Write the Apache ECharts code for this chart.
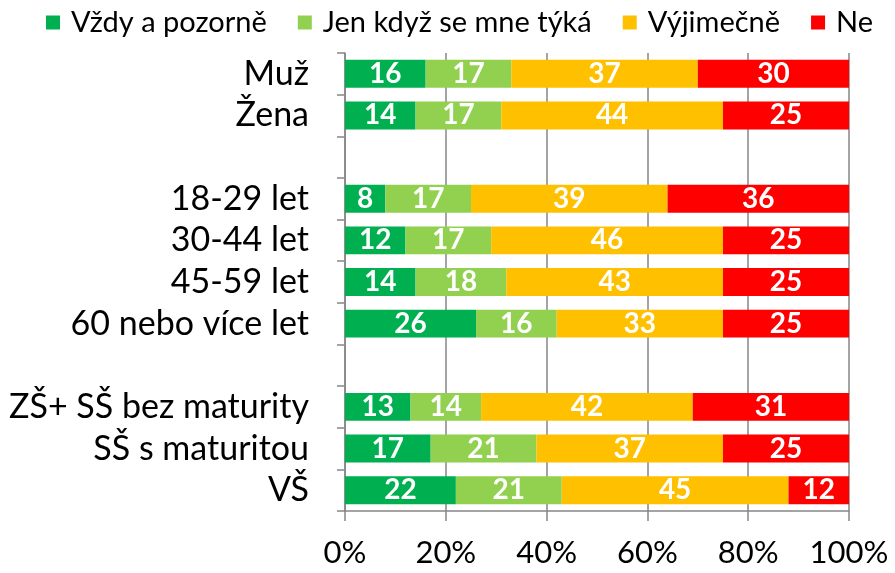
<!DOCTYPE html>
<html><head><meta charset="utf-8">
<script src="https://cdn.jsdelivr.net/npm/echarts@6/dist/echarts.min.js"></script>
<style>html,body{margin:0;padding:0;background:#fff}#c{width:895px;height:573px}</style>
</head><body><div id="c"></div>
<script>
const categories = ['Muž','Žena','','18-29 let','30-44 let','45-59 let','60 nebo více let','','ZŠ+ SŠ bez maturity','SŠ s maturitou','VŠ'];
const seriesNames = ['Vždy a pozorně','Jen když se mne týká','Výjimečně','Ne'];
const vzdy = [16,14,null,8,12,14,26,null,13,17,22];
const jen = [17,17,null,17,17,18,16,null,14,21,21];
const vyjimecne = [37,44,null,39,46,43,33,null,42,37,45];
const ne = [30,25,null,36,25,25,25,null,31,25,12];
const xTicks = [0,20,40,60,80,100];
const colors = ['#00B050','#92D050','#FFC000','#FF0000'];
const FONT = 'Lato';
const values = [vzdy, jen, vyjimecne, ne];
const chart = echarts.init(document.getElementById('c'));
chart.setOption({
  animation:false,
  textStyle:{fontFamily:FONT},
  legend:{top:8,left:46,padding:0,width:849,itemWidth:14,itemHeight:14,itemGap:31,
    textStyle:{fontSize:29,color:'#000',fontFamily:FONT,padding:[0,0,0,6]},
    data:seriesNames.map((n,i)=>({name:n,icon:'rect'}))},
  grid:{left:345,right:46,top:53,bottom:62,containLabel:false},
  xAxis:{type:'value',min:xTicks[0],max:xTicks[xTicks.length-1],interval:20,
    axisLine:{show:true,lineStyle:{color:'#868686',width:1.5}},
    axisTick:{show:true,length:10,lineStyle:{color:'#868686',width:1.5}},
    splitLine:{show:true,lineStyle:{color:'#868686',width:1.5}},
    axisLabel:{formatter:'{value}%',fontSize:31,color:'#000',margin:26,fontFamily:FONT}},
  yAxis:{type:'category',inverse:true,data:categories,
    axisLine:{show:true,lineStyle:{color:'#868686',width:1.5}},
    axisTick:{show:true,length:8,lineStyle:{color:'#868686',width:1.5}},
    axisLabel:{interval:0,fontSize:34,color:'#000',margin:36,fontFamily:FONT}},
  series:values.map((v,i)=>({
    name:seriesNames[i],type:'bar',stack:'s',data:v,barCategoryGap:'33%',
    itemStyle:{color:colors[i]},
    label:{show:true,position:'inside',color:'#fff',fontWeight:'bold',fontSize:28,fontFamily:FONT}
  }))
});
</script></body></html>
